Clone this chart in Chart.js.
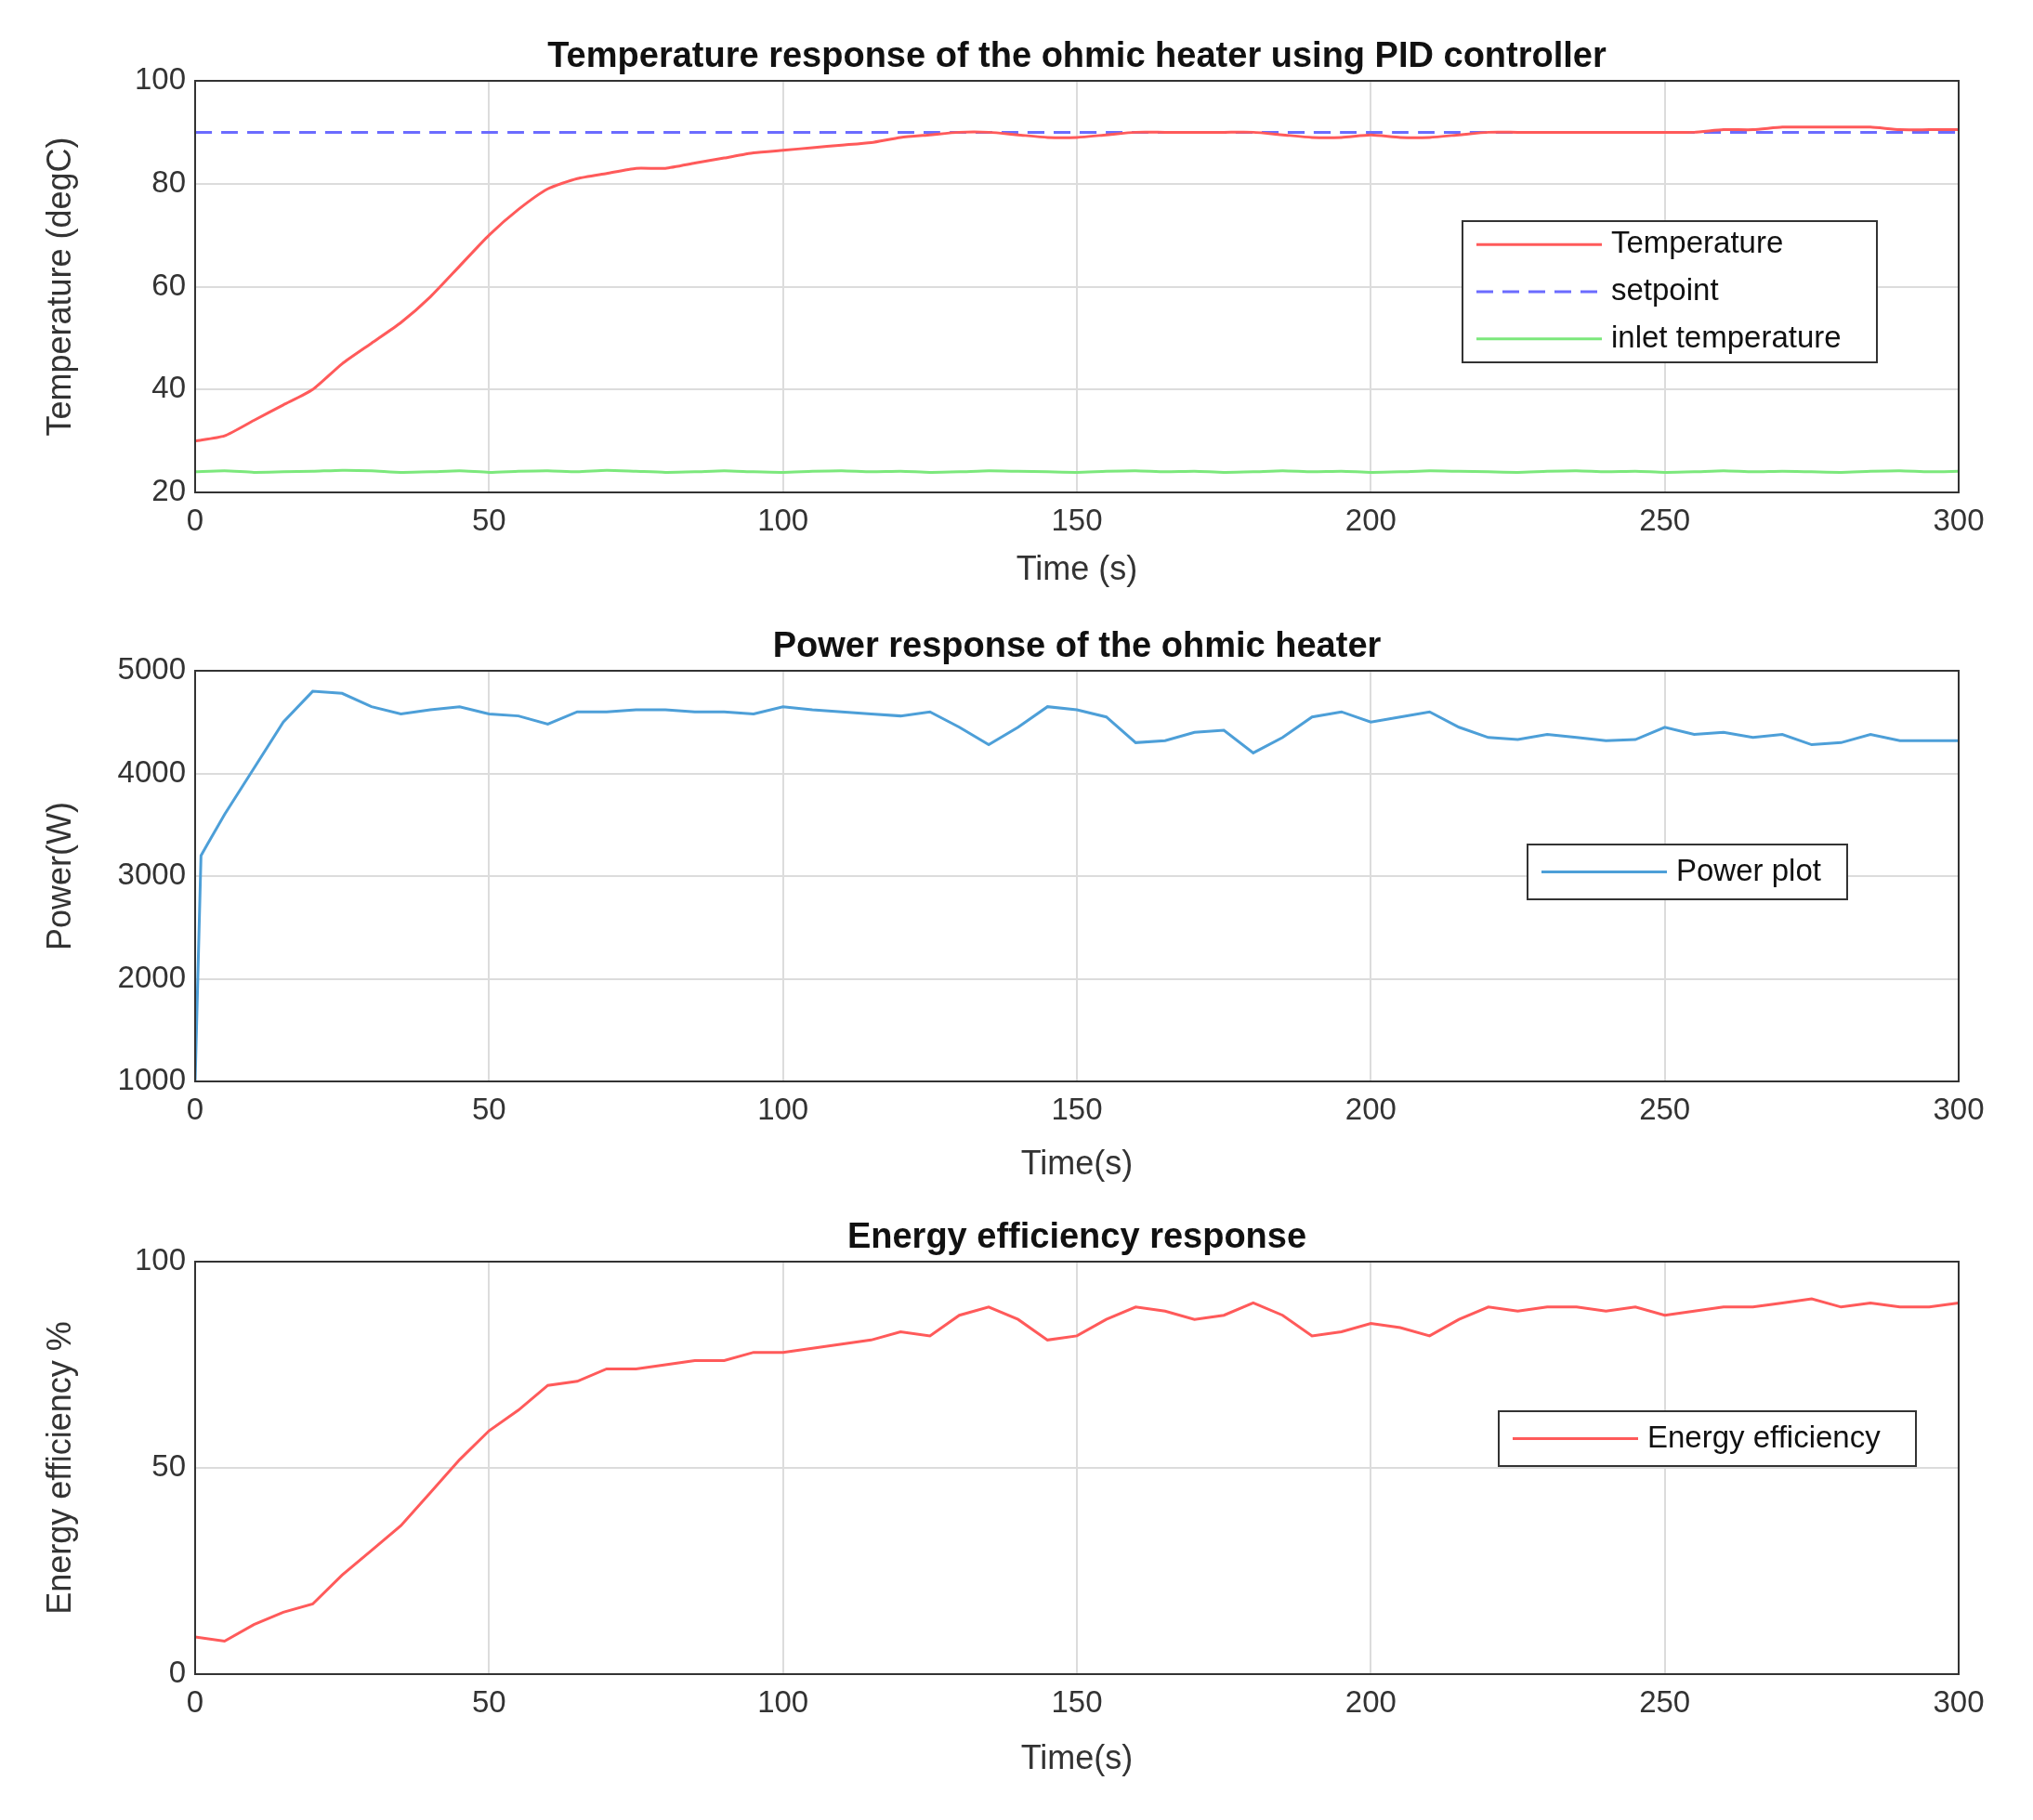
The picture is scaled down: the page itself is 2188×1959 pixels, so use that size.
<!DOCTYPE html>
<html>
<head>
<meta charset="utf-8">
<script src="https://cdn.jsdelivr.net/npm/chart.js@4.4.1/dist/chart.umd.min.js"></script>
<style>
body{margin:0;background:#fff;}
canvas{position:absolute;}
</style>
</head>
<body>
<canvas id="c1" style="top:0px;left:0px;width:2188px;height:640px"></canvas>
<canvas id="c2" style="top:640px;left:0px;width:2188px;height:640px"></canvas>
<canvas id="c3" style="top:1280px;left:0px;width:2188px;height:640px"></canvas>
<script>
const time = [0,5,10,15,20,25,30,35,40,45,50,55,60,65,70,75,80,85,90,95,100,105,110,115,120,125,130,135,140,145,150,155,160,165,170,175,180,185,190,195,200,205,210,215,220,225,230,235,240,245,250,255,260,265,270,275,280,285,290,295,300];
const temperature = [30,31,34,37,40,45,49,53,58,64,70,75,79,81,82,83,83,84,85,86,86.5,87,87.5,88,89,89.5,90,90,89.5,89,89,89.5,90,90,90,90,90,89.5,89,89,89.5,89,89,89.5,90,90,90,90,90,90,90,90,90.5,90.5,91,91,91,91,90.5,90.5,90.5];
const setpoint = [90,90,90,90,90,90,90,90,90,90,90,90,90,90,90,90,90,90,90,90,90,90,90,90,90,90,90,90,90,90,90,90,90,90,90,90,90,90,90,90,90,90,90,90,90,90,90,90,90,90,90,90,90,90,90,90,90,90,90,90,90];
const inletTemp = [24,24.2,23.9,24,24.1,24.3,24.2,23.9,24,24.2,23.9,24.1,24.2,24,24.3,24.1,23.9,24,24.2,24,23.9,24.1,24.2,24,24.1,23.9,24,24.2,24.1,24,23.9,24.1,24.2,24,24.1,23.9,24,24.2,24,24.1,23.9,24,24.2,24.1,24,23.9,24.1,24.2,24,24.1,23.9,24,24.2,24,24.1,24,23.9,24.1,24.2,24,24.1];
const powerTime = [0,1,2,5,10,15,20,25,30,35,40,45,50,55,60,65,70,75,80,85,90,95,100,105,110,115,120,125,130,135,140,145,150,155,160,165,170,175,180,185,190,195,200,205,210,215,220,225,230,235,240,245,250,255,260,265,270,275,280,285,290,295,300];
const power = [1000,3200,3300,3600,4050,4500,4800,4780,4650,4580,4620,4650,4580,4560,4480,4600,4600,4620,4620,4600,4600,4580,4650,4620,4600,4580,4560,4600,4450,4280,4450,4650,4620,4550,4300,4320,4400,4420,4200,4350,4550,4600,4500,4550,4600,4450,4350,4330,4380,4350,4320,4330,4450,4380,4400,4350,4380,4280,4300,4380,4320,4320,4320];
const efficiency = [9,8,12,15,17,24,30,36,44,52,59,64,70,71,74,74,75,76,76,78,78,79,80,81,83,82,87,89,86,81,82,86,89,88,86,87,90,87,82,83,85,84,82,86,89,88,89,89,88,89,87,88,89,89,90,91,89,90,89,89,90];
const xTicks = [0,50,100,150,200,250,300];

const FONT = 'Liberation Sans, Arial, sans-serif';

const boxPlugin = {
  id: 'box',
  afterDraw(chart, args, opts) {
    const ctx = chart.ctx, a = chart.chartArea;
    ctx.save();
    ctx.strokeStyle = '#333';
    ctx.lineWidth = 2;
    ctx.strokeRect(a.left, a.top, a.right - a.left, a.bottom - a.top);
    // title
    ctx.fillStyle = '#111';
    ctx.font = 'bold 38px ' + FONT;
    ctx.textAlign = 'center';
    ctx.textBaseline = 'bottom';
    ctx.fillText(opts.title, (a.left + a.right) / 2, a.top - 6);
    // legend
    const L = opts.legend;
    ctx.fillStyle = '#fff';
    ctx.fillRect(L.x, L.y, L.w, L.h);
    ctx.strokeStyle = '#333';
    ctx.strokeRect(L.x, L.y, L.w, L.h);
    const rowH = L.h / chart.data.datasets.length;
    ctx.font = '33px ' + FONT;
    ctx.textAlign = 'left';
    ctx.textBaseline = 'middle';
    chart.data.datasets.forEach((ds, i) => {
      const y = L.y + rowH * (i + 0.5);
      ctx.strokeStyle = ds.borderColor;
      ctx.lineWidth = 3;
      ctx.setLineDash(ds.borderDash || []);
      ctx.beginPath();
      ctx.moveTo(L.x + 15, y);
      ctx.lineTo(L.x + 150, y);
      ctx.stroke();
      ctx.setLineDash([]);
      ctx.fillStyle = '#111';
      ctx.fillText(ds.label, L.x + 160, y);
    });
    ctx.restore();
  }
};

function makeChart(id, datasets, yMin, yMax, yStep, yTitle, xTitle, padTop, xAxisH, title, legend) {
  return new Chart(document.getElementById(id), {
    type: 'line',
    data: { datasets: datasets },
    plugins: [boxPlugin],
    options: {
      responsive: false,
      animation: false,
      devicePixelRatio: 1,
      layout: { padding: { top: padTop, right: 80, left: 40, bottom: 0 } },
      elements: { point: { radius: 0 }, line: { borderWidth: 3, tension: 0.2 } },
      plugins: { legend: { display: false }, tooltip: { enabled: false }, box: { title: title, legend: legend } },
      scales: {
        x: {
          type: 'linear', min: 0, max: 300,
          afterBuildTicks: s => { s.ticks = xTicks.map(v => ({ value: v })); },
          afterFit: s => { s.height = xAxisH; },
          grid: { color: '#dcdcdc', lineWidth: 2, drawTicks: false },
          border: { display: false },
          ticks: { color: '#333', font: { size: 33, family: FONT }, padding: 12, maxRotation: 0 },
          title: { display: true, text: xTitle, color: '#333', font: { size: 36, family: FONT }, padding: 4 }
        },
        y: {
          min: yMin, max: yMax,
          afterFit: s => { s.width = 170; },
          grid: { color: '#dcdcdc', lineWidth: 2, drawTicks: false },
          border: { display: false },
          ticks: { stepSize: yStep, color: '#333', font: { size: 33, family: FONT }, padding: 10, callback: v => String(v) },
          title: { display: true, text: yTitle, color: '#333', font: { size: 36, family: FONT }, padding: 4 }
        }
      }
    }
  });
}

const pts = (xs, ys) => xs.map((x, i) => ({ x: x, y: ys[i] }));

makeChart('c1', [
  { label: 'Temperature', data: pts(time, temperature), borderColor: '#ff5a5a' },
  { label: 'setpoint', data: pts(time, setpoint), borderColor: '#6b6bff', borderDash: [18, 10] },
  { label: 'inlet temperature', data: pts(time, inletTemp), borderColor: '#7ce87c' }
], 20, 100, 20, 'Temperature (degC)', 'Time (s)', 87, 110,
  'Temperature response of the ohmic heater using PID controller',
  { x: 1574, y: 238, w: 446, h: 152 });

makeChart('c2', [
  { label: 'Power plot', data: pts(powerTime, power), borderColor: '#4d9fd8', tension: 0 }
], 1000, 5000, 1000, 'Power(W)', 'Time(s)', 82, 116,
  'Power response of the ohmic heater',
  { x: 1644, y: 269, w: 344, h: 59 });

makeChart('c3', [
  { label: 'Energy efficiency', data: pts(time, efficiency), borderColor: '#ff5a5a', tension: 0 }
], 0, 100, 50, 'Energy efficiency %', 'Time(s)', 78, 118,
  'Energy efficiency response',
  { x: 1613, y: 239, w: 449, h: 59 });
</script>
</body>
</html>
